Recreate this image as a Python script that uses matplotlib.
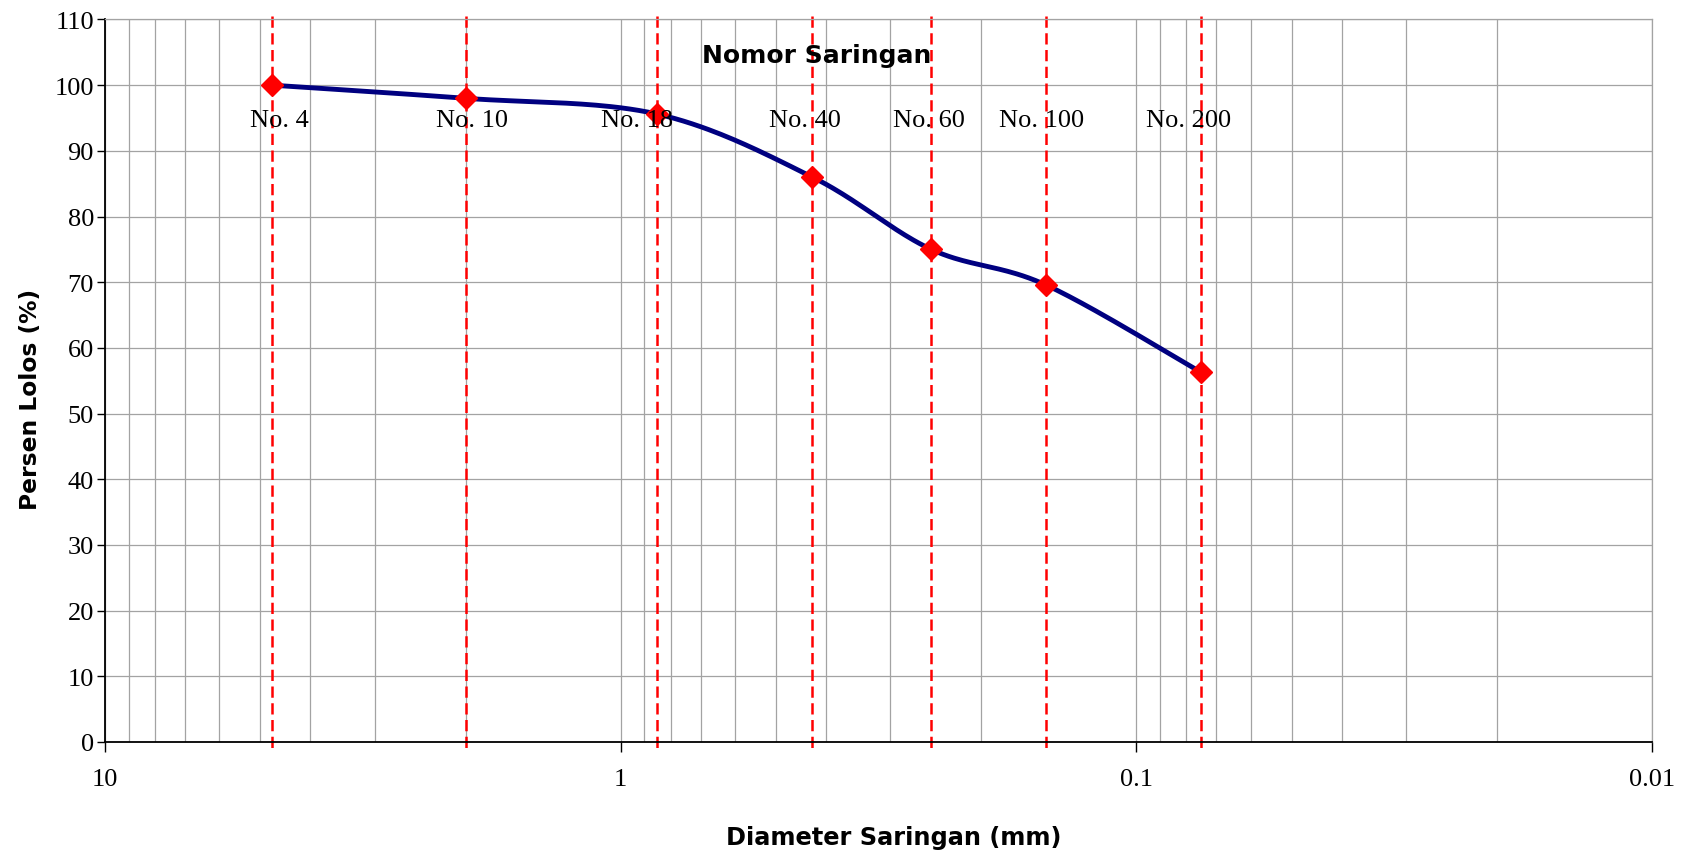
import numpy as np
import matplotlib
matplotlib.use("Agg")
import matplotlib.pyplot as plt
from matplotlib.ticker import FixedLocator, FuncFormatter, NullFormatter

# sieve analysis data
sieve_names = ["No. 4", "No. 10", "No. 18", "No. 40", "No. 60", "No. 100", "No. 200"]
sieve_mm = [4.75, 2.0, 0.85, 0.425, 0.25, 0.15, 0.075]
percent_passing = [100.0, 98.0, 95.6, 86.0, 75.0, 69.6, 56.3]

x_ticks = [10, 1, 0.1, 0.01]
y_ticks = list(range(0, 111, 10))

# horizontal nudge of each sieve name (pixels)
label_dx = [8, 6, -20, -7, -2, -4, -12]

SERIF = "Liberation Serif"
GRID = "#a3a3a3"


def smooth_curve(ax, xs, ys, n=40):
    """Bezier smoothing in display space (same idea as spreadsheet 'smoothed line')."""
    pts = ax.transData.transform(np.column_stack([xs, ys]))
    p = np.vstack([pts[0], pts, pts[-1]])
    t = np.linspace(0, 1, n)[:, None]
    segs = []
    for i in range(len(pts) - 1):
        p0, p1, p2, p3 = p[i], p[i + 1], p[i + 2], p[i + 3]
        c1 = p1 + (p2 - p0) / 6
        c2 = p2 - (p3 - p1) / 6
        seg = ((1 - t) ** 3) * p1 + 3 * ((1 - t) ** 2) * t * c1 \
            + 3 * (1 - t) * t ** 2 * c2 + t ** 3 * p2
        segs.append(seg if i == 0 else seg[1:])
    curve = ax.transData.inverted().transform(np.vstack(segs))
    return curve[:, 0], curve[:, 1]


fig = plt.figure(figsize=(16.95, 8.53), dpi=100)
ax = fig.add_axes([0.062, 0.129, 0.9127, 0.847])

ax.set_xscale("log")
ax.set_xlim(10, 0.01)
ax.set_ylim(0, 110)

# grid
ax.xaxis.set_major_locator(FixedLocator(x_ticks))
minor = [m * 10.0 ** e for e in (-2, -1, 0) for m in range(2, 10)]
ax.xaxis.set_minor_locator(FixedLocator(minor))
ax.xaxis.set_minor_formatter(NullFormatter())
ax.xaxis.set_major_formatter(FuncFormatter(lambda v, _: f"{v:g}"))
ax.set_yticks(y_ticks)
ax.grid(True, which="both", axis="x", color=GRID, lw=0.9)
ax.grid(True, which="major", axis="y", color=GRID, lw=0.9)
ax.set_axisbelow(True)

for side in ("top", "right"):
    ax.spines[side].set_color(GRID)
    ax.spines[side].set_linewidth(0.9)
for side in ("left", "bottom"):
    ax.spines[side].set_color("black")
    ax.spines[side].set_linewidth(1.3)

ax.tick_params(axis="y", direction="out", length=6, width=1, pad=2)
ax.tick_params(axis="x", which="major", direction="out", length=7, width=1, pad=12)
ax.tick_params(axis="x", which="minor", length=0)
for lab in ax.get_xticklabels() + ax.get_yticklabels():
    lab.set_fontfamily(SERIF)
    lab.set_fontsize(19)

# sieve reference lines
for x in sieve_mm:
    ax.plot([x, x], [110.6, -1.3], color="red", lw=1.8,
            linestyle=(0, (4.5, 2.2)), clip_on=False, zorder=2)

# gradation curve
fig.canvas.draw()
cx, cy = smooth_curve(ax, sieve_mm, percent_passing)
ax.plot(cx, cy, color="#000080", lw=3.5, zorder=3, solid_capstyle="round")
ax.plot(sieve_mm, percent_passing, linestyle="none", marker="D",
        markersize=11, color="red", zorder=4)

# sieve names
for name, x, dx in zip(sieve_names, sieve_mm, label_dx):
    ax.annotate(name, (x, 94.7), xytext=(dx * 0.72, 0), textcoords="offset points",
                ha="center", va="center", fontsize=19, family=SERIF, zorder=5)

ax.text(0.46, 104.6, "Nomor Saringan", transform=ax.get_yaxis_transform(),
        ha="center", va="center", fontsize=18, weight="bold")

ax.set_xlabel("Diameter Saringan (mm)", fontsize=17.3, weight="bold")
ax.set_ylabel("Persen Lolos (%)", fontsize=16.8, weight="bold")
ax.xaxis.set_label_coords(0.51, -0.115)
ax.yaxis.set_label_coords(-0.041, 0.475)

fig.savefig("out.png", dpi=100)
